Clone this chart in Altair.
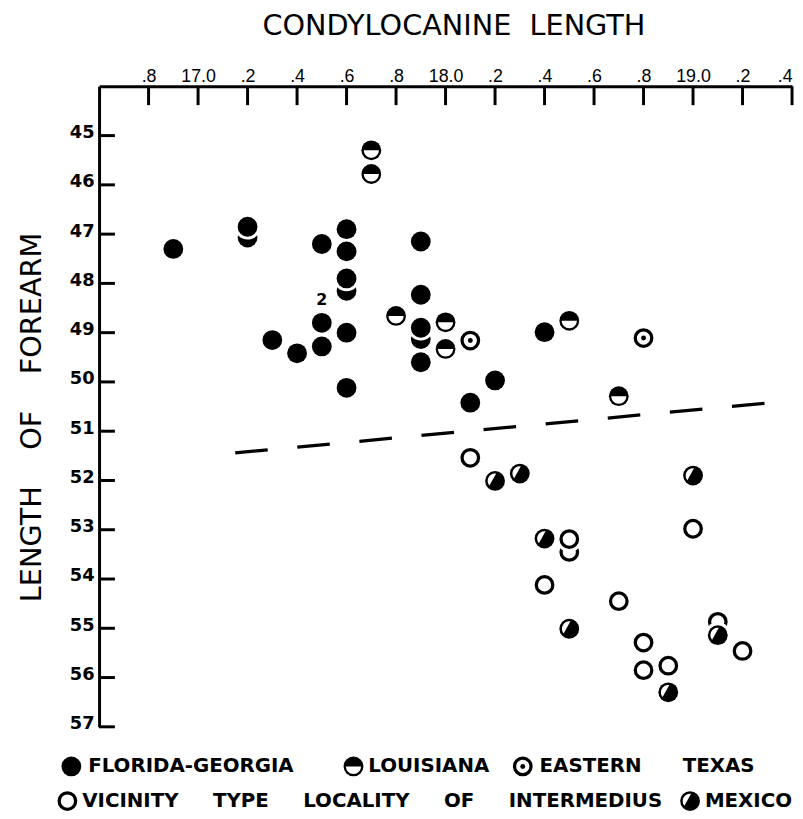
import altair as alt
import pandas as pd

# ---------------- data ----------------
x_ticks = [16.8, 17.0, 17.2, 17.4, 17.6, 17.8, 18.0, 18.2, 18.4, 18.6, 18.8, 19.0, 19.2, 19.4]
x_tick_labels = [".8", "17.0", ".2", ".4", ".6", ".8", "18.0", ".2", ".4", ".6", ".8", "19.0", ".2", ".4"]
y_ticks = [45, 46, 47, 48, 49, 50, 51, 52, 53, 54, 55, 56, 57]

florida_x = [16.9, 17.2, 17.5, 17.6, 17.6, 17.6, 17.5, 17.5, 17.6, 17.3, 17.4, 17.6, 17.9, 17.9, 17.9, 17.9, 18.2, 18.1, 18.4]
florida_y = [47.3, 46.85, 47.2, 46.9, 47.35, 47.9, 48.8, 49.28, 49.0, 49.15, 49.42, 50.12, 47.15, 48.23, 48.9, 49.6, 49.97, 50.42, 48.99]
florida_under_x = [17.2, 17.6, 17.9]
florida_under_y = [47.07, 48.15, 49.13]
louisiana_x = [17.7, 17.7, 17.8, 18.0, 18.0, 18.5, 18.7]
louisiana_y = [45.3, 45.78, 48.66, 48.79, 49.33, 48.76, 50.29]
etexas_x = [18.1, 18.8]
etexas_y = [49.16, 49.11]
intermedius_x = [18.1, 19.0, 18.5, 18.4, 18.7, 18.8, 18.8, 18.9, 19.2]
intermedius_y = [51.54, 52.98, 53.19, 54.12, 54.45, 55.29, 55.85, 55.76, 55.46]
intermedius_under_x = [18.5, 19.1]
intermedius_under_y = [53.45, 54.87]
mexico_x = [18.2, 18.3, 19.0, 18.4, 18.5, 18.9, 19.1]
mexico_y = [52.01, 51.86, 51.9, 53.18, 55.01, 56.3, 55.14]

trend_x = [17.15, 19.3]
trend_y = [51.44, 50.43]

note_x = [17.5]
note_y = [48.33]
note_text = ["2"]

legend_keys = ["FG", "LA", "ET", "IN", "MX"]
legend_labels = ["FLORIDA-GEORGIA", "LOUISIANA", "EASTERN TEXAS",
                 "VICINITY TYPE LOCALITY OF INTERMEDIUS", "MEXICO"]

# ---------------- tables ----------------
rows = []
def add(group, xs, ys, tier):
    for a, b in zip(xs, ys):
        rows.append({"x": a, "y": b, "group": group, "tier": tier})

add("FG", florida_under_x, florida_under_y, 0)
add("IN", intermedius_under_x, intermedius_under_y, 0)
add("FG", florida_x, florida_y, 1)
add("LA", louisiana_x, louisiana_y, 1)
add("ET", etexas_x, etexas_y, 1)
add("IN", intermedius_x, intermedius_y, 1)
add("MX", mexico_x, mexico_y, 1)
points = pd.DataFrame(rows)

# legend layout (pixel positions relative to plot origin)
NB = "\u00a0"
leg_gaps = [1, 1, 6, 5, 1]
leg_sym_x = [-28, 257, 428, -32, 597]
leg_sym_y = [687, 687, 687, 722, 722]
leg_txt_x = [-11, 272, 445, -17, 612]
legend = pd.DataFrame({
    "group": legend_keys,
    "label": [s.replace(" ", NB * g) for s, g in zip(legend_labels, leg_gaps)],
    "lx": leg_sym_x, "ly": leg_sym_y, "tx": leg_txt_x,
})

# ---------------- encodings ----------------
labels_js = "[" + ",".join("'%s'" % s for s in x_tick_labels) + "]"
values_js = "[" + ",".join(str(v) for v in x_ticks) + "]"

xe = alt.X("x:Q",
           scale=alt.Scale(domain=[16.6, 19.4], nice=False, zero=False),
           axis=alt.Axis(orient="top", values=x_ticks, ticks=False, tickSize=0,
                         labelExpr="%s[indexof(%s, round(datum.value*10)/10)]" % (labels_js, values_js),
                         labelFont="Liberation Sans", labelFontSize=18, labelPadding=5,
                         labelBaseline="alphabetic", labelFlush=True, grid=False,
                         domainColor="black", domainWidth=3,
                         title="CONDYLOCANINE" + NB * 2 + "LENGTH", titleFont="DejaVu Sans",
                         titleFontSize=29, titleFontWeight="normal", titleX=358, titleY=-52,
                         titleBaseline="alphabetic", titleAlign="center"))
ye = alt.Y("y:Q",
           scale=alt.Scale(domain=[44, 57], nice=False, zero=False, reverse=True),
           axis=alt.Axis(orient="left", values=y_ticks, ticks=False, tickSize=0, format="d",
                         labelFont="DejaVu Sans", labelFontSize=18, labelFontWeight="bold",
                         labelPadding=5, labelOffset=-3, grid=False,
                         domainColor="black", domainWidth=3,
                         title="LENGTH" + NB * 4 + "OF" + NB * 4 + "FOREARM", titleFont="DejaVu Sans",
                         titleFontSize=29, titleFontWeight="normal", titleX=-59, titleY=334,
                         titleBaseline="alphabetic", titleAlign="center", titleAngle=270))

lxe = alt.X("lx:Q", scale=None, axis=None)
lye = alt.Y("ly:Q", scale=None, axis=None)

D = 20
LA_HALF = "M -0.76 0 A 0.76 0.76 0 0 0 0.76 0 Z"
MX_LENS = "M 0.1 -0.74 A 0.74 0.74 0 0 0 -0.57 0.47 L 0.1 -0.74 Z"


def symbols(src, x_enc, y_enc, halo):
    out = []
    if halo:
        out.append(src.mark_point(shape="circle", filled=True, fill="white", strokeWidth=0,
                                  opacity=1, size=(D + 6) ** 2).encode(x=x_enc, y=y_enc))
    out.append(src.transform_filter(alt.FieldOneOfPredicate(field="group", oneOf=["FG", "LA", "MX"]))
               .mark_point(shape="circle", filled=True, fill="black", strokeWidth=0,
                           opacity=1, size=D * D).encode(x=x_enc, y=y_enc))
    out.append(src.transform_filter(alt.FieldOneOfPredicate(field="group", oneOf=["ET", "IN"]))
               .mark_point(shape="circle", filled=True, fill="white", stroke="black",
                           strokeWidth=3.3, opacity=1, size=(D - 3.3) ** 2).encode(x=x_enc, y=y_enc))
    out.append(src.transform_filter(alt.FieldEqualPredicate(field="group", equal="LA"))
               .mark_point(shape=LA_HALF, filled=True, fill="white", strokeWidth=0,
                           opacity=1, size=D * D).encode(x=x_enc, y=y_enc))
    out.append(src.transform_filter(alt.FieldEqualPredicate(field="group", equal="MX"))
               .mark_point(shape=MX_LENS, filled=True, fill="white", strokeWidth=0,
                           opacity=1, size=D * D).encode(x=x_enc, y=y_enc))
    out.append(src.transform_filter(alt.FieldEqualPredicate(field="group", equal="ET"))
               .mark_point(shape="circle", filled=True, fill="black", strokeWidth=0,
                           opacity=1, size=25).encode(x=x_enc, y=y_enc))
    return out


base = alt.Chart(points)
under = base.transform_filter("datum.tier == 0")
over = base.transform_filter("datum.tier == 1")

xtick_rules = alt.Chart(pd.DataFrame({"x": x_ticks})).mark_rule(color="black", strokeWidth=3).encode(
    x=xe, y=alt.value(0), y2=alt.value(19))
ytick_rules = alt.Chart(pd.DataFrame({"y": y_ticks})).mark_rule(color="black", strokeWidth=3).encode(
    y=ye, x=alt.value(0), x2=alt.value(16))

trend = alt.Chart(pd.DataFrame({"x": trend_x, "y": trend_y})).mark_line(
    color="black", strokeWidth=3.3, strokeDash=[33, 30]).encode(x=xe, y=ye)

note = alt.Chart(pd.DataFrame({"x": note_x, "y": note_y, "t": note_text})).mark_text(
    font="DejaVu Sans", fontSize=16, fontWeight="bold", color="black").encode(x=xe, y=ye, text="t:N")

leg_src = alt.Chart(legend)
leg_text = leg_src.mark_text(font="DejaVu Sans", fontSize=20, fontWeight="bold", color="black",
                             align="left", baseline="middle").encode(
    x=alt.X("tx:Q", scale=None, axis=None), y=lye, text="label:N")

layers = ([xtick_rules, ytick_rules, trend]
          + symbols(under, xe, ye, False)
          + symbols(over, xe, ye, True)
          + [note]
          + symbols(leg_src, lxe, lye, False)
          + [leg_text])

chart = alt.layer(*layers).properties(
    width=700, height=647,
    autosize=alt.AutoSizeParams(type="none"),
    padding={"left": 92, "top": 75, "right": 3, "bottom": 89},
    background="white",
).configure_view(stroke=None)

chart.save("out.html", embed_options={"renderer": "svg", "actions": False})
